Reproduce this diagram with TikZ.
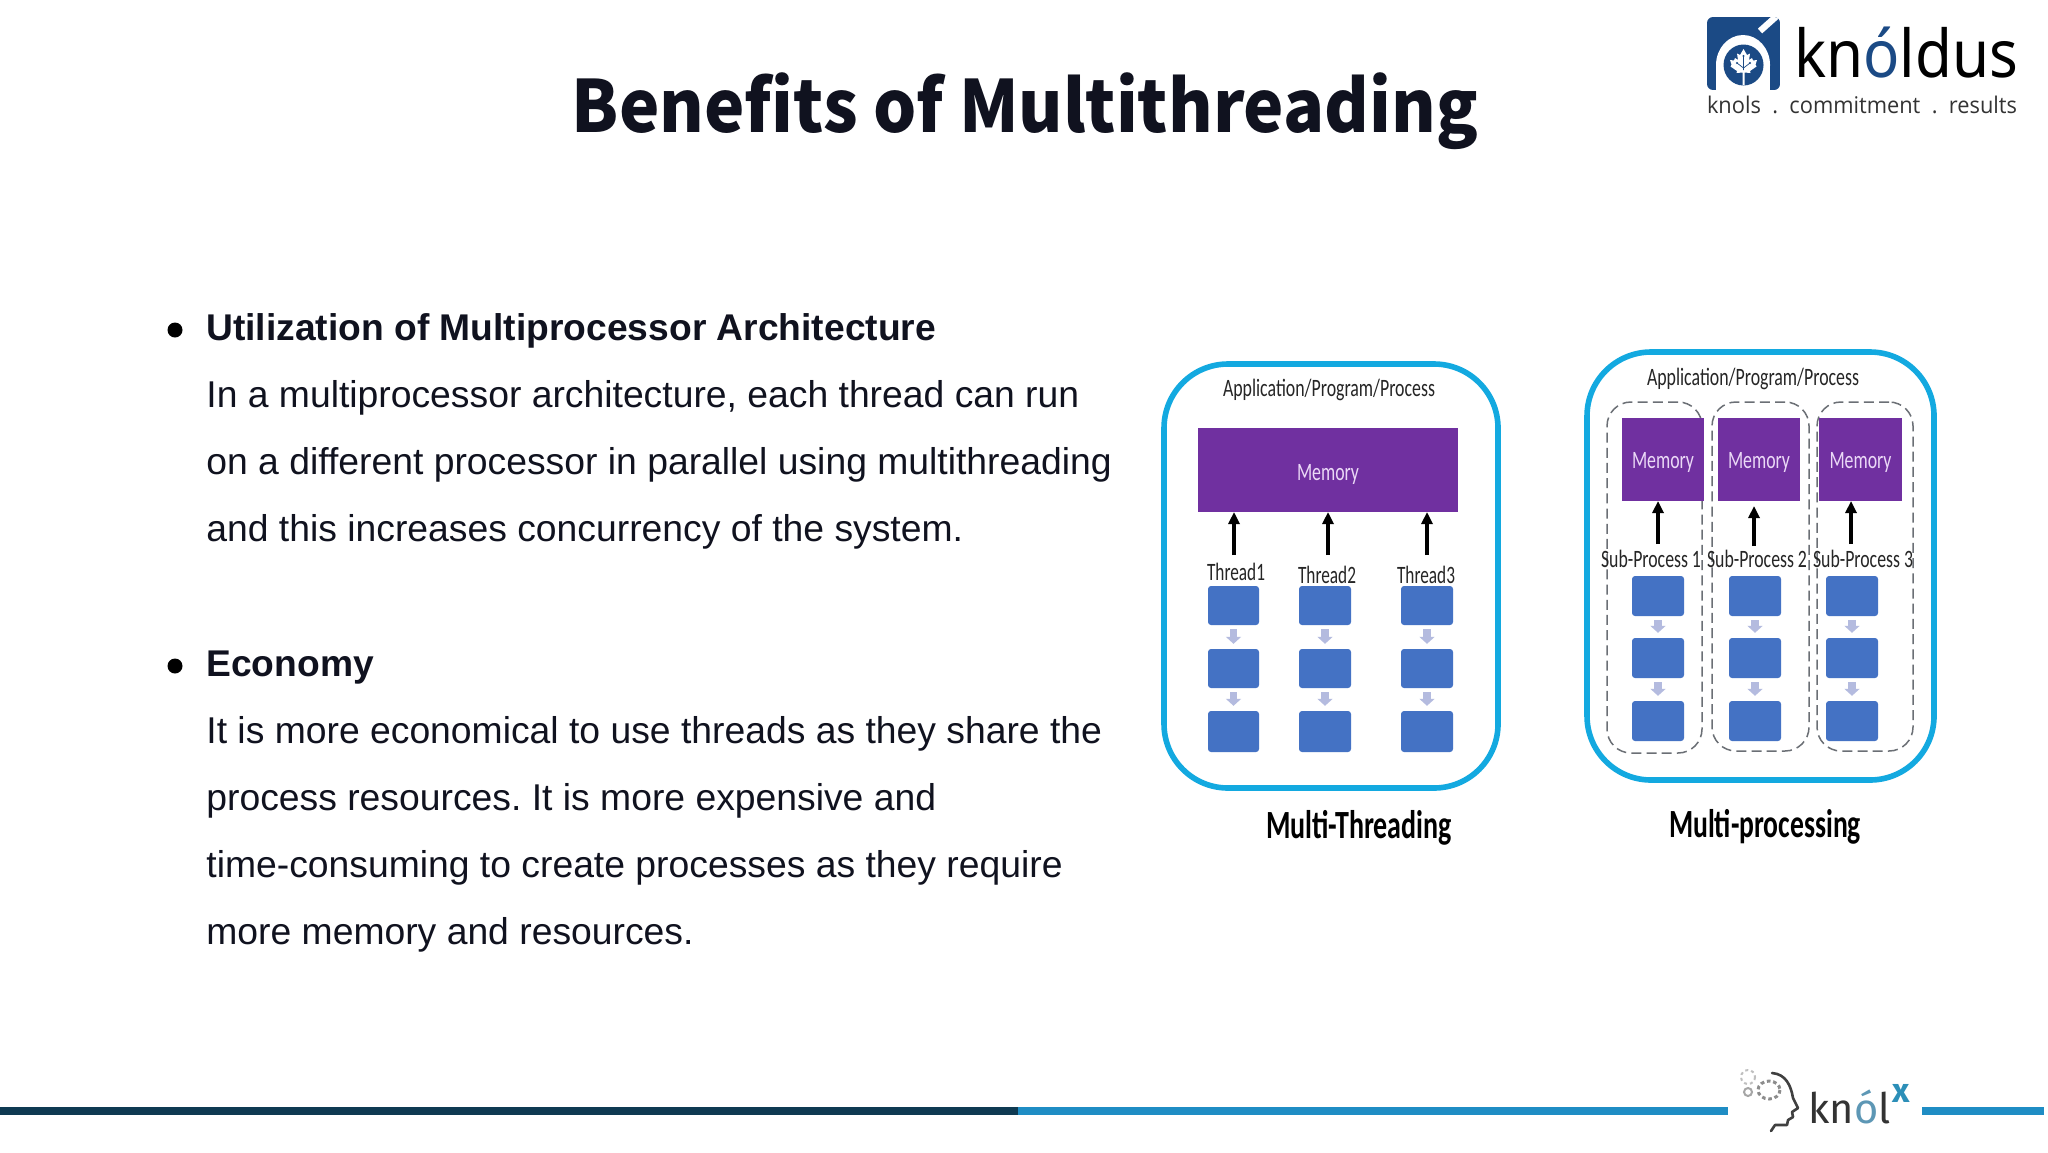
\documentclass[tikz,border=0pt]{standalone}
\usepackage{fontspec}
\usepackage{graphicx}
\usetikzlibrary{arrows.meta}
\setmainfont{Liberation Sans}
\newfontfamily\titlef{Noto Sans CJK SC}
\newfontfamily\diagf{Carlito}
\newfontfamily\logof{Noto Sans}
\newfontfamily\tagf[WordSpace=2]{Open Sans}
\newfontfamily\xf{Fira Sans}
\definecolor{inkc}{HTML}{10121F}
\definecolor{ringc}{HTML}{13A9E0}
\definecolor{purplec}{HTML}{7030A0}
\definecolor{memtext}{HTML}{EBD9F7}
\definecolor{boxc}{HTML}{4472C4}
\definecolor{smallarrow}{HTML}{B4BBDF}
\definecolor{dashc}{HTML}{6B6F75}
\definecolor{navyc}{HTML}{1B4A85}
\definecolor{darkline}{HTML}{0F3A52}
\definecolor{blueline}{HTML}{1F8DC4}
\definecolor{knolxo}{HTML}{5D97B5}
\definecolor{knolxx}{HTML}{2C8FB8}
\frenchspacing
\newcommand\fw[2]{\resizebox{#1pt}{\height}{#2}}
% rectangle node from pixel corners
\newcommand\rn[7][]{\node[#1,minimum width={(#5-#3)*0.5pt},minimum height={(#6-#4)*0.5pt}] (#2) at ({(#3+#5)/2},{(#4+#6)/2}) {#7};}
\tikzset{
  rnbase/.style={inner sep=0pt,outer sep=0pt},
  outerbox/.style={rnbase,draw=ringc,line width=2.8pt,rounded corners=32pt},
  dashbox/.style={rnbase,draw=dashc,line width=0.75pt,dash pattern=on 5pt off 2.6pt,rounded corners=12pt},
  membox/.style={rnbase,fill=purplec,text=memtext,font=\diagf\fontsize{12.5}{14}\selectfont},
  bluebox/.style={rnbase,fill=boxc,rounded corners=1.5pt},
  label/.style={inner sep=0pt,text=black!85,font=\diagf\fontsize{12.5}{14}\selectfont},
  caption/.style={inner sep=0pt,text=black,font=\diagf\bfseries\fontsize{20}{22}\selectfont},
  upconn/.style={draw=black,line width=1.7pt,-{Triangle[width=5.5pt,length=6pt]}},
  stepconn/.style={draw=smallarrow,line width=3.6pt,shorten <=2pt,shorten >=2.6pt,-{Triangle[width=7.5pt,length=3.5pt]}},
  bodyline/.style={anchor=base west,inner sep=0pt,text=inkc,font=\fontsize{18.65}{22}\selectfont},
  headline/.style={bodyline,font=\bfseries\fontsize{18.6}{22}\selectfont},
  bulletdot/.style={circle,fill=black,inner sep=0pt,minimum size=7.5pt}
}
\begin{document}
\begin{tikzpicture}[x=0.5pt,y=-0.5pt]
\useasboundingbox (0,0) rectangle (2048,1152);
\fill[white] (0,0) rectangle (2048,1152);

% title
\node[inner sep=0pt,anchor=base,text=inkc,font=\titlef\bfseries\fontsize{36}{40}\selectfont] (title) at (1025,132) {\fw{453}{Benefits of Multithreading}};

% body text
\node[bulletdot] (b1) at (175,330) {};
\node[headline] (l1) at (206,340) {Utilization of Multiprocessor Architecture};
\node[bodyline] (l2) at (206,407) {In a multiprocessor architecture, each thread can run};
\node[bodyline] (l3) at (206,474) {on a different processor in parallel using multithreading};
\node[bodyline] (l4) at (206,541) {and this increases concurrency of the system.};
\node[bulletdot] (b2) at (175,666) {};
\node[headline] (l5) at (206,676) {Economy};
\node[bodyline] (l6) at (206,743) {It is more economical to use threads as they share the};
\node[bodyline] (l7) at (206,810) {process resources. It is more expensive and};
\node[bodyline] (l8) at (206,877) {time-consuming to create processes as they require};
\node[bodyline] (l9) at (206,944.5) {more memory and resources.};

% multi-threading panel
\rn[outerbox]{mt}{1164}{364}{1498}{788}{}
\node[label] (mtapp) at (1329,390) {\fw{106}{Application/Program/Process}};
\rn[membox]{mtmem}{1198}{428}{1458}{512}{\raisebox{-2pt}[\height][\depth]{\fw{31}{Memory}}}
\node[label] (t1) at (1236,572) {\fw{29}{Thread1}};
\node[label] (t2) at (1327,575) {\fw{29}{Thread2}};
\node[label] (t3) at (1426,575) {\fw{29}{Thread3}};
\coordinate (ta1) at (1234,555);
\coordinate (ta2) at (1328,555);
\coordinate (ta3) at (1427,555);
\draw[upconn] (ta1) -- (ta1 |- mtmem.south);
\draw[upconn] (ta2) -- (ta2 |- mtmem.south);
\draw[upconn] (ta3) -- (ta3 |- mtmem.south);
\rn[bluebox]{a11}{1208}{586}{1259}{625}{}
\rn[bluebox]{a12}{1208}{649}{1259}{688}{}
\rn[bluebox]{a13}{1208}{711}{1259}{752}{}
\rn[bluebox]{a21}{1299}{586}{1351}{625}{}
\rn[bluebox]{a22}{1299}{649}{1351}{688}{}
\rn[bluebox]{a23}{1299}{711}{1351}{752}{}
\rn[bluebox]{a31}{1401}{586}{1453}{625}{}
\rn[bluebox]{a32}{1401}{649}{1453}{688}{}
\rn[bluebox]{a33}{1401}{711}{1453}{752}{}
\foreach \c in {1,2,3}{
  \draw[stepconn] (a\c1) -- (a\c2);
  \draw[stepconn] (a\c2) -- (a\c3);
}
\node[caption] (mtcap) at (1359,828) {\fw{93}{Multi-Threading}};

% multi-processing panel
\rn[outerbox]{mp}{1587}{352}{1934}{780}{}
\node[label] (mpapp) at (1753,379) {\fw{106}{Application/Program/Process}};
\rn[dashbox]{d1}{1607}{402}{1702}{753}{}
\rn[dashbox]{d2}{1712}{402}{1809}{751}{}
\rn[dashbox]{d3}{1817}{402}{1913}{751}{}
\rn[membox]{m1}{1622}{418}{1704}{501}{\raisebox{-1.3pt}[\height][\depth]{\fw{31}{Memory}}}
\rn[membox]{m2}{1718}{418}{1800}{501}{\raisebox{-1.3pt}[\height][\depth]{\fw{31}{Memory}}}
\rn[membox]{m3}{1819}{418}{1902}{501}{\raisebox{-1.3pt}[\height][\depth]{\fw{31}{Memory}}}
\node[label] (s1) at (1651,559) {\fw{50}{Sub-Process 1}};
\node[label] (s2) at (1757,559) {\fw{50}{Sub-Process 2}};
\node[label] (s3) at (1863,559) {\fw{50}{Sub-Process 3}};
\coordinate (pa1) at (1658,544);
\coordinate (pa2) at (1754,546);
\coordinate (pa3) at (1851,544);
\coordinate (pt2) at (1754,506);
\draw[upconn] (pa1) -- (pa1 |- m1.south);
\draw[upconn] (pa2) -- (pt2);
\draw[upconn] (pa3) -- (pa3 |- m3.south);
\rn[bluebox]{c11}{1632}{576}{1684}{616}{}
\rn[bluebox]{c12}{1632}{638}{1684}{678}{}
\rn[bluebox]{c13}{1632}{701}{1684}{741}{}
\rn[bluebox]{c21}{1729}{576}{1781}{616}{}
\rn[bluebox]{c22}{1729}{638}{1781}{678}{}
\rn[bluebox]{c23}{1729}{701}{1781}{741}{}
\rn[bluebox]{c31}{1826}{576}{1878}{616}{}
\rn[bluebox]{c32}{1826}{638}{1878}{678}{}
\rn[bluebox]{c33}{1826}{701}{1878}{741}{}
\foreach \c in {1,2,3}{
  \draw[stepconn] (c\c1) -- (c\c2);
  \draw[stepconn] (c\c2) -- (c\c3);
}
\node[caption] (mpcap) at (1765,827) {\fw{96}{Multi-processing}};

% knoldus logo
\begin{scope}
  \clip[rounded corners=3pt] (1707,17) rectangle (1780,90);
  \fill[navyc] (1707,17) rectangle (1780,90);
  \fill[white] (1743,65) ellipse [x radius=27,y radius=30];
  \fill[white] (1716,65) rectangle (1770,90);
  \fill[navyc] (1743.5,65) ellipse [x radius=20,y radius=20.5];
  \draw[white,line width=3.2pt] (1760,31) -- (1779,14);
\end{scope}
\fill[white] (1743.5,49) -- (1740,55) -- (1737,53.5) -- (1738,60) -- (1735,58) -- (1734,60.5) -- (1730,60) -- (1731.5,64.5) -- (1730.5,66.5) -- (1737,71) -- (1736.5,73) -- (1742.5,72.5) -- (1742.5,85) -- (1744.5,85) -- (1744.5,72.5) -- (1750.5,73) -- (1750,71) -- (1756.5,66.5) -- (1755.5,64.5) -- (1757,60) -- (1753,60.5) -- (1752,58) -- (1749,60) -- (1750,53.5) -- (1747,55) -- cycle;
\draw[navyc,line width=0.35pt] (1743.5,56) -- (1743.5,70) (1743.5,68) -- (1737,63) (1743.5,68) -- (1750,63);
\fill[navyc] (1743.5,56) circle (1.2) (1737,63) circle (1.2) (1750,63) circle (1.2);
\node[anchor=base,inner sep=0pt,text=black,font=\logof\fontsize{33}{36}\selectfont] (kn) at (1906,77) {\fw{112}{kn{\color{navyc}ó}ldus}};
\node[anchor=base,inner sep=0pt,text=black!80,font=\tagf\fontsize{11.5}{14}\selectfont] (tag) at (1862,113) {\fw{155}{knols . commitment . results}};

% bottom rule
\fill[darkline] (0,1107) rectangle (1018,1115);
\fill[blueline] (1018,1107) rectangle (1728,1115);
\fill[blueline] (1922,1107) rectangle (2044,1115);

% knolx logo
\draw[black!75,line width=1.3pt,line cap=round,line join=round] (1772,1073) .. controls (1786,1074) and (1791,1086) .. (1793,1098) -- (1798,1108) -- (1792,1112) -- (1793,1117) -- (1788,1120) -- (1787,1125) -- (1775,1125) -- (1771,1131);
\draw[black!45,line width=1.5pt,dash pattern=on 1.8pt off 1.4pt] (1769,1090) ellipse [x radius=11,y radius=9];
\draw[black!25,line width=1pt,dash pattern=on 1.5pt off 1.5pt] (1748,1077) circle (7);
\draw[black!35,line width=1pt] (1748,1092) circle (4);
\node[anchor=base west,inner sep=0pt,text=black!80,font=\xf\fontsize{21}{24}\selectfont] (knolx) at (1808,1123) {\fw{41}{kn{\color{knolxo}ó}l}};
\node[anchor=base west,inner sep=0pt,text=knolxx,font=\xf\bfseries\fontsize{17}{18}\selectfont] (knolxs) at (1892,1102) {x};
\end{tikzpicture}
\end{document}
